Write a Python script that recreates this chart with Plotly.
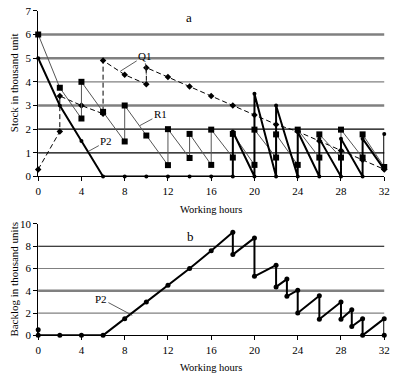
import plotly.graph_objects as go

# ---- data: panel a (stock) ----
p2_stock_x = [0, 2, 4, 6, 8, 10, 12, 14, 16, 18, 18, 20, 20, 22, 22, 24, 24, 26, 26, 28, 28, 30, 30, 32, 32]
p2_stock_y = [5, 3, 1.5, 0, 0, 0, 0, 0, 0, 0, 1.9, 0, 3.5, 0, 3.0, 0, 1.9, 0, 1.6, 0, 1.6, 0, 1.6, 0.3, 1.8]

r1_x = [0, 2, 4, 4, 6, 8, 8, 10, 12, 12, 14, 14, 16, 16, 18, 18, 20, 20, 22, 22, 24, 24, 26, 26, 28, 28, 30, 30, 32]
r1_y = [6, 3.75, 2.45, 4.0, 2.73, 1.48, 3.0, 1.73, 0.48, 2.0, 0.78, 1.8, 0.49, 1.98, 0.8, 1.8, 0.49, 1.98,
        0.8, 1.78, 0.49, 1.98, 0.8, 1.78, 0.8, 1.98, 0.8, 1.78, 0.4]

q1_x = [0, 2, 2, 4, 6, 6, 8, 10, 10, 12, 14, 16, 18, 20, 22, 24, 26, 28, 30, 32]
q1_y = [0.3, 1.9, 3.4, 3.0, 2.65, 4.9, 4.3, 3.9, 4.6, 4.2, 3.8, 3.4, 3.0, 2.6, 2.2, 1.9, 1.5, 1.1, 0.7, 0.3]

# ---- data: panel b (backlog) ----
bl_x = [0, 0, 2, 4, 6, 8, 10, 12, 14, 16, 18, 18, 20, 20, 22, 22, 23, 23, 24, 24, 26, 26, 28, 28, 29, 29, 30, 30, 32, 32]
bl_y = [0.5, 0, 0, 0, 0, 1.5, 3.0, 4.5, 6.0, 7.6, 9.25, 7.25, 8.75, 5.3, 6.3, 4.35, 5.05, 3.5, 4.05, 2.0,
        3.55, 1.45, 3.0, 1.45, 2.3, 0.8, 1.5, 0, 1.5, 0]

x_ticks = [0, 4, 8, 12, 16, 20, 24, 28, 32]
top_y_ticks = [0, 1, 2, 3, 4, 5, 6, 7]
bot_y_ticks = [0, 2, 4, 6, 8, 10]

# grid styles (level, colour, width)
top_grid = [(1, "#000000", 1.2), (2, "#000000", 1.2), (3, "#808080", 2.5), (4, "#808080", 1.2),
            (5, "#808080", 2.5), (6, "#808080", 2.5)]
bot_grid = [(2, "#808080", 1.2), (4, "#808080", 2.5), (6, "#808080", 1.2), (8, "#000000", 1.2)]

FONT = "Liberation Serif, Times New Roman, serif"

fig = go.Figure()

fig.add_trace(go.Scatter(x=q1_x, y=q1_y, mode="lines+markers", xaxis="x", yaxis="y",
                         line=dict(color="black", width=1, dash="5px,3px"),
                         marker=dict(symbol="diamond", size=5, color="black"), cliponaxis=False))
fig.add_trace(go.Scatter(x=r1_x, y=r1_y, mode="lines+markers", xaxis="x", yaxis="y",
                         line=dict(color="#555555", width=1),
                         marker=dict(symbol="square", size=6, color="black"), cliponaxis=False))
fig.add_trace(go.Scatter(x=p2_stock_x, y=p2_stock_y, mode="lines+markers", xaxis="x", yaxis="y",
                         line=dict(color="black", width=2),
                         marker=dict(symbol="circle", size=4, color="black"), cliponaxis=False))
fig.add_trace(go.Scatter(x=bl_x, y=bl_y, mode="lines+markers", xaxis="x2", yaxis="y2",
                         line=dict(color="black", width=2),
                         marker=dict(symbol="circle", size=5, color="black"), cliponaxis=False))

shapes = []
for lvl, col, w in top_grid:
    shapes.append(dict(type="line", xref="x domain", yref="y", x0=0, x1=1, y0=lvl, y1=lvl,
                       line=dict(color=col, width=w), layer="below"))
for lvl, col, w in bot_grid:
    shapes.append(dict(type="line", xref="x2 domain", yref="y2", x0=0, x1=1, y0=lvl, y1=lvl,
                       line=dict(color=col, width=w), layer="below"))

axis_common = dict(showgrid=False, zeroline=False, showline=True, linecolor="black", linewidth=1,
                   ticks="outside", ticklen=4, tickcolor="black",
                   tickfont=dict(family=FONT, size=11, color="black"))

fig.update_layout(
    width=400, height=384, margin=dict(l=0, r=0, t=0, b=0),
    paper_bgcolor="white", plot_bgcolor="white", showlegend=False,
    font=dict(family=FONT, size=11, color="black"),
    xaxis=dict(domain=[0.09, 0.975], range=[0, 32], tickvals=x_ticks, anchor="y", **axis_common),
    yaxis=dict(domain=[0.5417, 0.987], range=[0, 7], tickvals=top_y_ticks, anchor="x", **axis_common),
    xaxis2=dict(domain=[0.09, 0.975], range=[0, 32], tickvals=x_ticks, anchor="y2", **axis_common),
    yaxis2=dict(domain=[0.1146, 0.4141], range=[0, 10], tickvals=bot_y_ticks, anchor="x2", **axis_common),
    shapes=shapes,
)

def text_at(text, x, y, size=11, angle=0, xr="paper", yr="paper"):
    return dict(text=text, xref=xr, yref=yr, x=x, y=y, xanchor="center", yanchor="middle",
                showarrow=False, textangle=angle, font=dict(family=FONT, size=size, color="black"))

ann = [
    text_at("Working hours", 0.533, 0.453, size=10.5),
    text_at("Working hours", 0.533, 0.029, size=10.5),
    text_at("Stock in thousand unit", 0.027, 0.794, angle=-90),
    text_at("Backlog in thousand units", 0.027, 0.266, angle=-90),
    text_at("a", 13.9, 6.7, size=13, xr="x", yr="y"),
    text_at("b", 14.1, 8.87, size=13, xr="x2", yr="y2"),
]

def label(text, tx, ty, px, py, xr="x", yr="y", color="black"):
    return dict(text=text, x=px, y=py, ax=tx, ay=ty, xref=xr, yref=yr, axref=xr, ayref=yr,
                showarrow=True, arrowhead=0, arrowwidth=0.8, arrowcolor="#333333",
                font=dict(family=FONT, size=11, color=color))

ann.append(label("Q1", 9.85, 5.1, 7.6, 4.45))
ann.append(label("Q1", 9.85, 5.1, 10.0, 4.3, color="rgba(0,0,0,0)"))
ann.append(label("R1", 11.3, 2.62, 9.4, 2.15))
ann.append(label("P2", 6.3, 1.48, 4.6, 1.05))
ann.append(label("P2", 5.8, 3.3, 8.7, 1.8, xr="x2", yr="y2"))
fig.update_layout(annotations=ann)

fig.write_html("out.html")
